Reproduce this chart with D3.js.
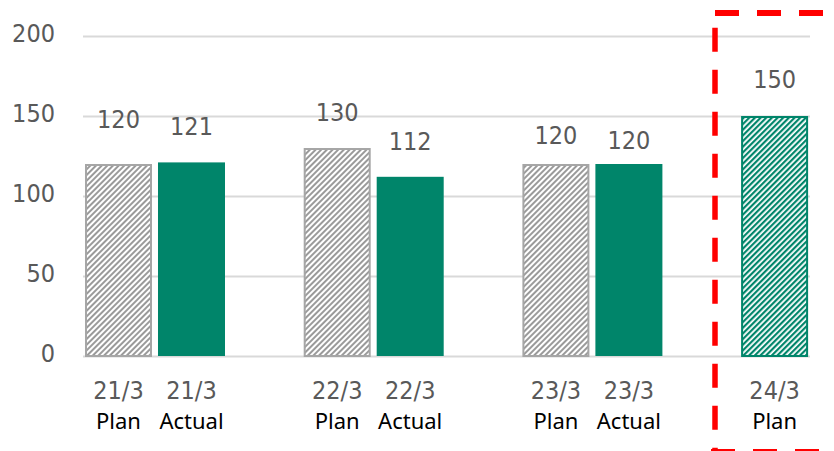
<!DOCTYPE html>
<html>
<head>
<meta charset="utf-8">
<script src="https://cdn.jsdelivr.net/npm/d3@7"></script>
<style>
  html, body { margin: 0; padding: 0; background: #fff; }
  svg { display: block; }
  .num { font-family: "DejaVu Sans Condensed", "DejaVu Sans", sans-serif; font-stretch: condensed; }
  .word { font-family: "Noto Sans", "Open Sans", sans-serif; }
</style>
</head>
<body>
<svg id="chart" width="834" height="451"></svg>
<script>
// Fiscal years and their plan / actual figures
const years = ["21/3", "22/3", "23/3", "24/3"];
const kinds = ["Plan", "Actual"];
const planValues = [120, 130, 120, 150];
const actualValues = [121, 112, 120, null];
const yTicks = [0, 50, 100, 150, 200];

// Label lift above each bar top (px), [plan, actual] per year
const labelLift = [[36, 27], [27, 27], [20, 15], [28, null]];

const svg = d3.select("#chart");
const plotLeft = 83, plotRight = 810, plotTop = 36, plotBottom = 356;

const teal = "#00856a";
const grey = "#a6a6a6";

// Hatch patterns for the plan bars
const defs = svg.append("defs");
function hatch(id, color, lineW) {
  const p = defs.append("pattern")
    .attr("id", id)
    .attr("patternUnits", "userSpaceOnUse")
    .attr("width", 4).attr("height", 4)
    .attr("patternTransform", "rotate(45)");
  p.append("rect").attr("width", 4).attr("height", 4).attr("fill", "#fff");
  p.append("rect").attr("x", 0).attr("y", 0)
    .attr("width", lineW).attr("height", 4).attr("fill", color);
}
hatch("hatchGrey", "#9a9a9a", 2);
hatch("hatchTeal", teal, 2.2);

// Scales
const y = d3.scaleLinear().domain([0, 200]).range([plotBottom, plotTop]);
const x0 = d3.scaleBand().domain(years).range([46, 46 + 4 * 218.7]).padding(0);
const x1 = d3.scaleBand().domain(kinds).range([39, 179]).paddingInner(0.082).paddingOuter(0);

// Gridlines and y tick labels
const yAxis = d3.axisLeft(y).tickValues(yTicks).tickSize(-(plotRight - plotLeft)).tickPadding(28);
const gy = svg.append("g").attr("transform", `translate(${plotLeft},0)`).call(yAxis);
gy.select(".domain").remove();
gy.attr("font-family", null).attr("font-size", null);
gy.selectAll(".tick line").attr("stroke", "#d9d9d9").attr("stroke-width", 1.8);
gy.selectAll(".tick text")
  .attr("class", "num")
  .attr("fill", "#595959")
  .style("font-size", "25px")
  .attr("dy", null)
  .attr("y", 5);

// Bars
const rows = [];
years.forEach((yr, i) => {
  rows.push({ year: yr, kind: "Plan", value: planValues[i], lift: labelLift[i][0], idx: i });
  if (actualValues[i] != null)
    rows.push({ year: yr, kind: "Actual", value: actualValues[i], lift: labelLift[i][1], idx: i });
});

const bx = d => x0(d.year) + x1(d.kind);
const bw = x1.bandwidth();

svg.append("g").selectAll("rect").data(rows).join("rect")
  .attr("x", d => bx(d) + (d.kind === "Plan" ? 1 : 0))
  .attr("y", d => y(d.value) + (d.kind === "Plan" ? 1 : 0))
  .attr("width", d => bw - (d.kind === "Plan" ? 2 : 0))
  .attr("height", d => y(0) - y(d.value) - (d.kind === "Plan" ? 1 : 0))
  .attr("fill", d => d.kind === "Actual" ? teal : (d.idx === 3 ? "url(#hatchTeal)" : "url(#hatchGrey)"))
  .attr("stroke", d => d.kind === "Actual" ? "none" : (d.idx === 3 ? teal : grey))
  .attr("stroke-width", 2);

// Value labels
svg.append("g").selectAll("text").data(rows).join("text")
  .attr("class", "num")
  .attr("x", d => bx(d) + bw / 2)
  .attr("y", d => y(d.value) - d.lift)
  .attr("text-anchor", "middle")
  .attr("fill", "#595959")
  .style("font-size", "25px")
  .text(d => d.value);

// Category labels: year on first line, plan/actual on second
const cat = svg.append("g").selectAll("g").data(rows).join("g")
  .attr("transform", d => `translate(${bx(d) + bw / 2},0)`);
cat.append("text")
  .attr("class", "num")
  .attr("y", 399)
  .attr("text-anchor", "middle")
  .attr("fill", "#595959")
  .style("font-size", "25px")
  .text(d => d.year);
cat.append("text")
  .attr("class", "word")
  .attr("y", 429)
  .attr("text-anchor", "middle")
  .attr("fill", "#000")
  .style("font-size", "22px")
  .text(d => d.kind);

// Red dashed frame around the forecast year
const frame = svg.append("g")
  .attr("stroke", "#ff0000")
  .attr("stroke-width", 6)
  .attr("stroke-dasharray", "24 18")
  .attr("fill", "none");
frame.append("line").attr("x1", 715).attr("y1", 13).attr("x2", 860).attr("y2", 13);
frame.append("line").attr("x1", 715).attr("y1", 27.7).attr("x2", 715).attr("y2", 470)
  .attr("stroke-width", 5.5);
frame.append("line").attr("x1", 711).attr("y1", 452).attr("x2", 860).attr("y2", 452);
</script>
</body>
</html>
